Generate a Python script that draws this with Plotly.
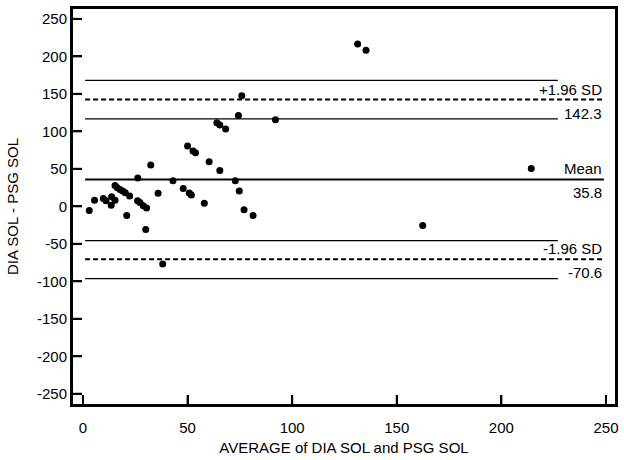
import plotly.graph_objects as go

# data points: average vs difference
avg_sol = [3.0, 5.5, 9.7, 11.0, 13.7, 13.5, 15.3, 15.3, 16.4, 17.7, 19.0, 20.2, 22.3, 20.9,
           26.2, 26.1, 27.2, 28.8, 30.4, 30.0, 32.4, 35.9, 38.1, 43.0, 47.9, 50.8, 51.8,
           50.0, 52.6, 53.8, 58.0, 60.3, 65.4, 64.0, 65.4, 68.2, 72.8, 74.3, 74.7, 75.9,
           77.0, 81.3, 92.0, 131.3, 135.3, 162.4, 214.3]
diff_sol = [-5.6, 8.2, 10.4, 7.4, 12.6, 1.3, 8.2, 27.7, 24.7, 22.5, 20.4, 18.2, 13.9, -12.1,
            37.6, 7.4, 5.2, 0.9, -2.2, -30.8, 55.1, 17.3, -76.8, 34.2, 23.8, 17.8, 15.0,
            80.5, 73.8, 71.4, 4.0, 59.3, 47.8, 111.6, 108.3, 103.1, 34.2, 121.0, 20.4, 147.6,
            -4.5, -12.4, 115.5, 216.5, 208.3, -25.6, 50.4]

mean_diff = 35.8
upper_loa = 142.3
lower_loa = -70.6
upper_ci = [116.5, 168.0]
lower_ci = [-96.5, -45.8]
line_x = [1, 249]
ci_x = [1, 227]

x_ticks = [0, 50, 100, 150, 200, 250]
y_ticks = list(range(-250, 251, 50))

family = "Arial, Liberation Sans, sans-serif"
tick_font = dict(family=family, size=15, color="black")
title_font = dict(family=family, size=15, color="black")
label_font = dict(family=family, size=15, color="black")

fig = go.Figure()

# confidence interval lines for the limits
for v in upper_ci + lower_ci:
    fig.add_trace(go.Scatter(x=ci_x, y=[v, v], mode="lines",
                             line=dict(color="black", width=1.2), hoverinfo="skip"))

# limits of agreement
for v in [upper_loa, lower_loa]:
    fig.add_trace(go.Scatter(x=line_x, y=[v, v], mode="lines",
                             line=dict(color="black", width=2, dash="5px,3px"), hoverinfo="skip"))

# mean
fig.add_trace(go.Scatter(x=line_x, y=[mean_diff, mean_diff], mode="lines",
                         line=dict(color="black", width=2), hoverinfo="skip"))

fig.add_trace(go.Scatter(x=avg_sol, y=diff_sol, mode="markers",
                         marker=dict(color="black", size=7)))

labels = [(upper_loa, "+1.96 SD", f"{upper_loa:.1f}"),
          (mean_diff, "Mean", f"{mean_diff:.1f}"),
          (lower_loa, "-1.96 SD", f"{lower_loa:.1f}")]
for v, top, bottom in labels:
    fig.add_annotation(x=line_x[1], y=v, text=top, showarrow=False, xanchor="right",
                       yanchor="bottom", yshift=0, font=label_font)
    fig.add_annotation(x=line_x[1], y=v, text=bottom, showarrow=False, xanchor="right",
                       yanchor="top", yshift=-3, font=label_font)

# frame and inside ticks (drawn as shapes so they always show)
fig.add_shape(type="rect", xref="paper", yref="paper", x0=0, x1=1, y0=0, y1=1,
              line=dict(color="black", width=2), layer="above")
for t in x_ticks:
    fig.add_shape(type="line", xref="x", yref="paper", x0=t, x1=t, y0=0, y1=10 / 407,
                  line=dict(color="black", width=2), layer="above")
for t in y_ticks:
    fig.add_shape(type="line", xref="paper", yref="y", x0=0, x1=10 / 544, y0=t, y1=t,
                  line=dict(color="black", width=2), layer="above")

fig.update_layout(
    width=624, height=460,
    margin=dict(l=72, r=8, t=6, b=47),
    plot_bgcolor="white",
    showlegend=False,
    font=tick_font,
)
fig.update_xaxes(showline=True, linecolor="black", linewidth=2, mirror=True,
                 ticks="inside", ticklen=10, tickwidth=2, tickcolor="black",
                 range=[-5.26, 254.8], tickvals=x_ticks, ticktext=[str(t) for t in x_ticks],
                 ticklabelstandoff=8, tickfont=tick_font,
                 showgrid=False, zeroline=False,
                 title=dict(text="AVERAGE of DIA SOL and PSG SOL", font=title_font, standoff=7))
fig.update_yaxes(showline=True, linecolor="black", linewidth=2, mirror=True,
                 ticks="inside", ticklen=10, tickwidth=2, tickcolor="black",
                 range=[-265, 264.5], tickvals=y_ticks, ticktext=[str(t) for t in y_ticks],
                 tickfont=tick_font,
                 showgrid=False, zeroline=False,
                 title=dict(text="DIA SOL - PSG SOL", font=title_font))

fig.write_html("out.html", config={"displayModeBar": False},
               post_script="document.body.style.margin='0';")
